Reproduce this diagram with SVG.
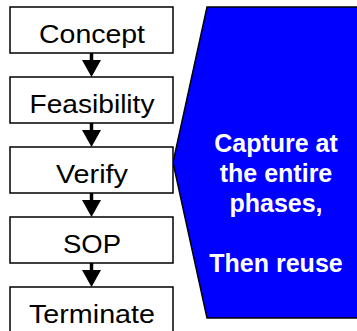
<svg xmlns="http://www.w3.org/2000/svg" width="357" height="331" viewBox="0 0 357 331">
<style>
.box{fill:#fff;stroke:#000;stroke-width:1.5}
.lbl{font-family:"Liberation Sans",Arial,sans-serif;font-size:25px;fill:#000;text-anchor:middle}
.big{font-family:"Liberation Sans",Arial,sans-serif;font-size:25px;font-weight:bold;fill:#fff;text-anchor:middle}
.stem{stroke:#000;stroke-width:3.5}
</style>
<defs>
<path id="head" d="M-9.5,0 L9.5,0 L0,17 Z" fill="#000"/>
</defs>
<rect width="357" height="331" fill="#fff"/>
<g id="callout">
<polygon points="207,7 360,7 360,318 207,318 173,162.5" fill="#0000ff" stroke="#000" stroke-width="1.5"/>
<text class="big" x="276" y="152">Capture at</text>
<text class="big" x="276" y="182">the entire</text>
<text class="big" x="276" y="212">phases,</text>
<text class="big" x="276" y="272">Then reuse</text>
</g>
<g id="connectors">
<line class="stem" x1="91.5" y1="53" x2="91.5" y2="61"/><use href="#head" x="91.5" y="60"/>
<line class="stem" x1="91.5" y1="123" x2="91.5" y2="131"/><use href="#head" x="91.5" y="130"/>
<line class="stem" x1="91.5" y1="193" x2="91.5" y2="201"/><use href="#head" x="91.5" y="200"/>
<line class="stem" x1="91.5" y1="263" x2="91.5" y2="271"/><use href="#head" x="91.5" y="270"/>
</g>
<g id="concept"><rect class="box" x="10" y="7" width="163" height="46"/><text class="lbl" x="92" y="43" textLength="106" lengthAdjust="spacingAndGlyphs">Concept</text></g>
<g id="feasibility"><rect class="box" x="10" y="77" width="163" height="46"/><text class="lbl" x="92" y="113" textLength="125" lengthAdjust="spacingAndGlyphs">Feasibility</text></g>
<g id="verify"><rect class="box" x="10" y="147" width="163" height="46"/><text class="lbl" x="92" y="183" textLength="72" lengthAdjust="spacingAndGlyphs">Verify</text></g>
<g id="sop"><rect class="box" x="10" y="217" width="163" height="46"/><text class="lbl" x="92" y="253" textLength="58" lengthAdjust="spacingAndGlyphs">SOP</text></g>
<g id="terminate"><rect class="box" x="10" y="287" width="163" height="46"/><text class="lbl" x="92" y="323" textLength="126" lengthAdjust="spacingAndGlyphs">Terminate</text></g>
</svg>
